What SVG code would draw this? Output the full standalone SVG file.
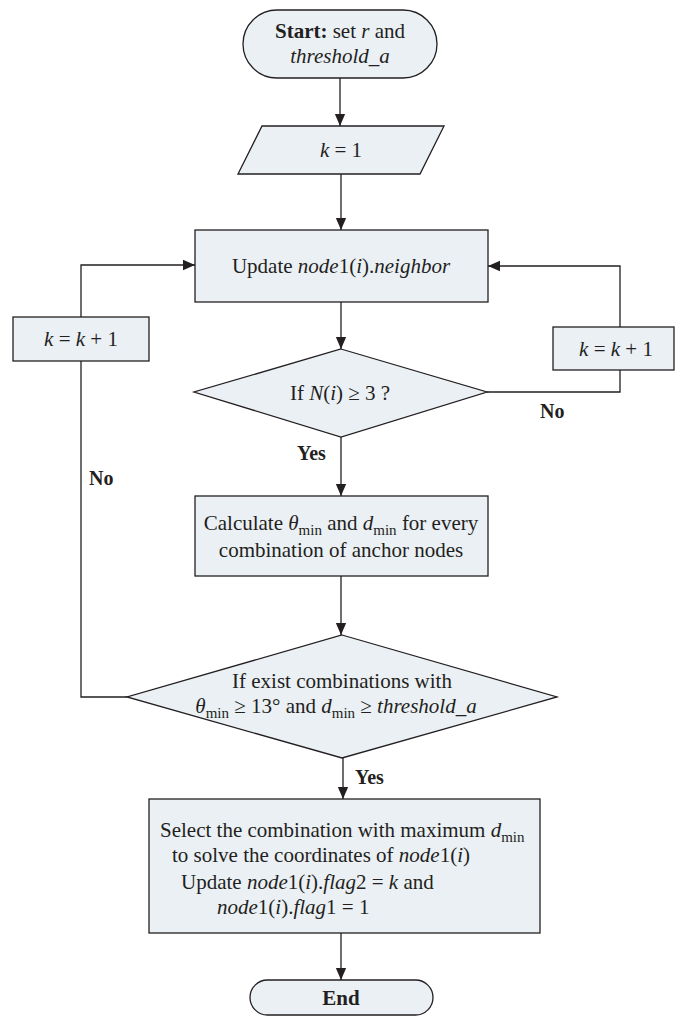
<svg xmlns="http://www.w3.org/2000/svg" width="675" height="1017" viewBox="0 0 675 1017">
<style>
.shape{fill:#ebf0f5;stroke:#231f20;stroke-width:1.3}
.t{font-family:"Liberation Serif","Times New Roman",serif;font-size:21px;fill:#231f20}
.m{text-anchor:middle}
.i{font-style:italic}
.b{font-weight:bold}
.sub{font-size:15px;font-style:normal}
.line{fill:none;stroke:#231f20;stroke-width:1.3}
.lbl{font-family:"Liberation Serif","Times New Roman",serif;font-size:20px;font-weight:bold;fill:#231f20}
</style>
<defs>
<marker id="arr" markerWidth="12" markerHeight="14" refX="14" refY="6" viewBox="0 0 14 12" orient="auto" markerUnits="userSpaceOnUse">
<path d="M0,0 L14,6 L0,12 z" fill="#231f20"/>
</marker>
</defs>
<rect width="675" height="1017" fill="#ffffff"/>
<g id="connectors">
<path class="line" d="M340,78 V126" marker-end="url(#arr)"/>
<path class="line" d="M341,174 V230" marker-end="url(#arr)"/>
<path class="line" d="M341,302 V349" marker-end="url(#arr)"/>
<path class="line" d="M341,437 V496" marker-end="url(#arr)"/>
<path class="line" d="M487,392 H620 V370"/>
<path class="line" d="M620,327 V266 H488" marker-end="url(#arr)"/>
<path class="line" d="M341,576 V635" marker-end="url(#arr)"/>
<path class="line" d="M127,697 H81 V361"/>
<path class="line" d="M81,317 V265 H195" marker-end="url(#arr)"/>
<path class="line" d="M343,758 V799" marker-end="url(#arr)"/>
<path class="line" d="M341,933 V980" marker-end="url(#arr)"/>
<text class="lbl" x="297" y="460">Yes</text>
<text class="lbl" x="540" y="418">No</text>
<text class="lbl" x="89" y="485">No</text>
<text class="lbl" x="355" y="784">Yes</text>
</g>
<g id="start">
<rect class="shape" x="243" y="10" width="194" height="68" rx="34" ry="34"/>
<text class="t m" x="340" y="38"><tspan class="b">Start:</tspan> set <tspan class="i">r</tspan> and</text>
<text class="t m i" x="340" y="63">threshold_a</text>
</g>
<g id="init">
<polygon class="shape" points="262,126 444,126 420,174 238,174"/>
<text class="t m" x="341" y="157"><tspan class="i">k</tspan> = 1</text>
</g>
<g id="update">
<rect class="shape" x="195" y="230" width="293" height="72"/>
<text class="t m" x="341" y="273">Update <tspan class="i">node</tspan>1(<tspan class="i">i</tspan>).<tspan class="i">neighbor</tspan></text>
</g>
<g id="inc-left">
<rect class="shape" x="13" y="317" width="136" height="44"/>
<text class="t m" x="81" y="346"><tspan class="i">k</tspan> = <tspan class="i">k</tspan> + 1</text>
</g>
<g id="inc-right">
<rect class="shape" x="553" y="327" width="121" height="43"/>
<text class="t m" x="616" y="356"><tspan class="i">k</tspan> = <tspan class="i">k</tspan> + 1</text>
</g>
<g id="decision1">
<polygon class="shape" points="341,349 487,392 341,437 194,392"/>
<text class="t m" x="340" y="400">If <tspan class="i">N</tspan>(<tspan class="i">i</tspan>) ≥ 3 ?</text>
</g>
<g id="calculate">
<rect class="shape" x="195" y="496" width="293" height="80"/>
<text class="t m" x="341" y="530">Calculate <tspan class="i">θ</tspan><tspan class="sub" dy="5">min</tspan><tspan dy="-5"> and </tspan><tspan class="i">d</tspan><tspan class="sub" dy="5">min</tspan><tspan dy="-5"> for every</tspan></text>
<text class="t m" x="341" y="557">combination of anchor nodes</text>
</g>
<g id="decision2">
<polygon class="shape" points="342,635 557,697 342,758 127,697"/>
<text class="t m" x="342" y="688">If exist combinations with</text>
<text class="t m" x="336" y="713"><tspan class="i">θ</tspan><tspan class="sub" dy="5">min</tspan><tspan dy="-5"> ≥ 13° and </tspan><tspan class="i">d</tspan><tspan class="sub" dy="5">min</tspan><tspan dy="-5"> ≥ </tspan><tspan class="i">threshold_a</tspan></text>
</g>
<g id="select">
<rect class="shape" x="149" y="799" width="391" height="134"/>
<text class="t" x="160" y="837">Select the combination with maximum <tspan class="i">d</tspan><tspan class="sub" dy="5">min</tspan></text>
<text class="t" x="172" y="862">to solve the coordinates of <tspan class="i">node</tspan>1(<tspan class="i">i</tspan>)</text>
<text class="t" x="181" y="889">Update <tspan class="i">node</tspan>1(<tspan class="i">i</tspan>).<tspan class="i">flag</tspan>2 = <tspan class="i">k</tspan> and</text>
<text class="t" x="217" y="914"><tspan class="i">node</tspan>1(<tspan class="i">i</tspan>).<tspan class="i">flag</tspan>1 = 1</text>
</g>
<g id="end">
<rect class="shape" x="250" y="980" width="183" height="35" rx="17.5" ry="17.5"/>
<text class="t m b" x="341" y="1005">End</text>
</g>
</svg>
